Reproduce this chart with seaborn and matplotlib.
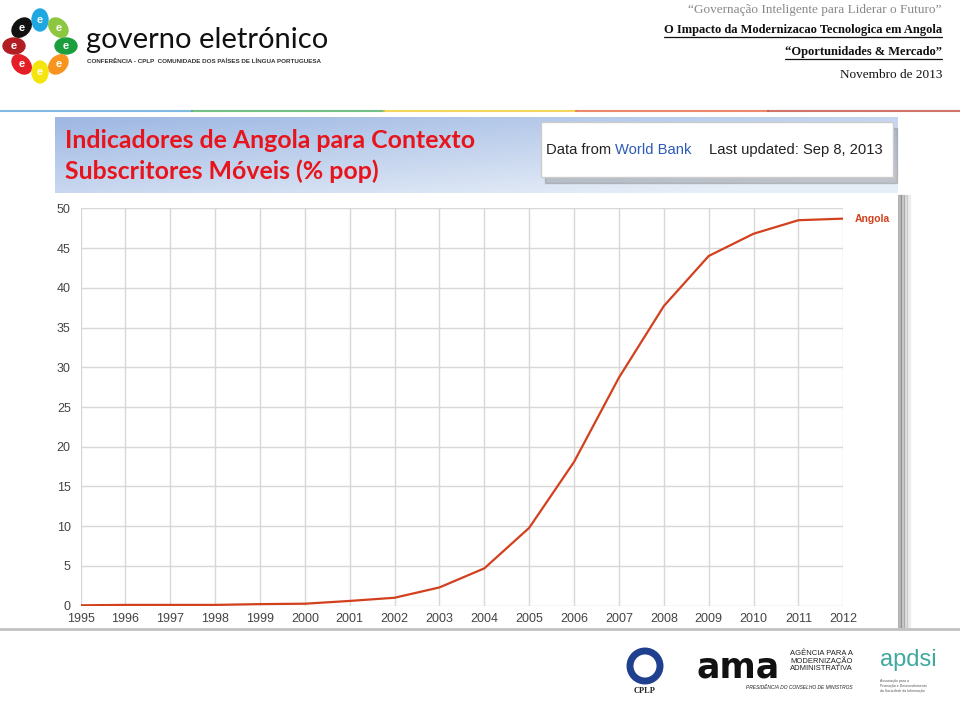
import numpy as np
import pandas as pd
import matplotlib.pyplot as plt
import matplotlib.patches as mpatches
import seaborn as sns

# data
years = list(range(1995, 2013))
angola = [0.05, 0.1, 0.1, 0.1, 0.2, 0.25, 0.6, 1.0, 2.3, 4.7,
          9.8, 18.1, 28.7, 37.7, 44.0, 46.8, 48.5, 48.7]
y_ticks = [0, 5, 10, 15, 20, 25, 30, 35, 40, 45, 50]

title_lines = ["Indicadores de Angola para Contexto", "Subscritores Móveis (% pop)"]
header_lines = ["\u201cGovernação Inteligente para Liderar o Futuro\u201d",
                "O Impacto da Modernizacao Tecnologica em Angola",
                "\u201cOportunidades & Mercado\u201d",
                "Novembro de 2013"]

df = pd.DataFrame({"Ano": years, "Angola": angola})

sns.set_style("white")
plt.rcParams['font.family'] = ['Liberation Sans', 'DejaVu Sans']

W, H = 960, 701
fig = plt.figure(figsize=(9.6, 7.01), dpi=100)

# overlay axes in pixel coordinates for the slide decoration
bg = fig.add_axes([0, 0, 1, 1], zorder=0)
bg.set_xlim(0, W)
bg.set_ylim(H, 0)
bg.axis("off")

# logo petals
petal_colors = ["#1ea7e1", "#8dc63f", "#1b9e3e", "#f7941d", "#f5e50f", "#e41e26", "#b01e23", "#111111"]
cx, cy = 40, 46
for i, c in enumerate(petal_colors):
    ang = np.deg2rad(90 - i * 45)
    px = cx + 26 * np.cos(ang)
    py = cy - 26 * np.sin(ang)
    bg.add_patch(mpatches.Ellipse((px, py), 16, 22, angle=-(i * 45), color=c))
    bg.text(px, py, "e", color="white", fontsize=8, fontweight="bold", ha="center", va="center")

bg.text(86, 40, "governo eletrónico", fontsize=21, family="Lato", fontweight="normal",
        color="#111111", ha="left", va="center")
bg.text(87, 61, "CONFERÊNCIA - CPLP  COMUNIDADE DOS PAÍSES DE LÍNGUA PORTUGUESA",
        fontsize=4.5, fontweight="bold", color="#333333", ha="left", va="center")

# right header
hy = [10, 30, 52, 75]
hcol = ["#888888", "#111111", "#111111", "#111111"]
hsize = [9.5, 9.0, 9.0, 9.5]
for i, (t, y) in enumerate(zip(header_lines, hy)):
    txt = bg.text(942, y, t, fontsize=hsize[i], family="Liberation Serif", color=hcol[i],
                  ha="right", va="center", fontweight="bold" if i in (1, 2) else "normal")
    if i in (1, 2):
        fig.canvas.draw()
        bb = txt.get_window_extent()
        bg.plot([bb.x0, 942], [y + 7, y + 7], color="#111111", lw=0.9)

# coloured rule under the header
rule_cols = ["#4a9fd8", "#3aa655", "#f0c419", "#e05a2b", "#c0392b"]
for i, c in enumerate(rule_cols):
    bg.plot([i * W / 5, (i + 1) * W / 5], [111, 111], color=c, lw=1.5, alpha=0.7)

# title box with gradient
gx = np.linspace(0, 1, 200)
gy = np.linspace(0, 1, 40)
GX, GY = np.meshgrid(gx, gy)
t = np.clip(0.55 * GX + 0.6 * GY, 0, 1)
c0 = np.array([0.62, 0.72, 0.89])
c1 = np.array([0.90, 0.93, 0.97])
grad = c0[None, None, :] * (1 - t[..., None]) + c1[None, None, :] * t[..., None]
bg.imshow(grad, extent=[55, 898, 193, 117], aspect="auto", zorder=1)
bg.set_xlim(0, W)
bg.set_ylim(H, 0)

bg.text(65, 140, title_lines[0], fontsize=17.9, family="Lato", fontweight="bold",
        color="#e8141c", ha="left", va="center", zorder=3)
bg.text(65, 171, title_lines[1], fontsize=17.9, family="Lato", fontweight="bold",
        color="#e8141c", ha="left", va="center", zorder=3)

# data source box
bg.add_patch(mpatches.Rectangle((545, 128), 352, 55, color="#777777", alpha=0.35, zorder=2))
bg.add_patch(mpatches.Rectangle((541, 122), 352, 55, facecolor="white", edgecolor="#cccccc", zorder=3))
src_font = dict(fontsize=10.6, family="Liberation Sans", ha="left", va="center", zorder=4)
bg.text(546, 150, "Data from", color="#222222", **src_font)
bg.text(615, 150, "World Bank", color="#2b5bb5", **src_font)
bg.text(709, 150, "Last updated: Sep 8, 2013", color="#222222", **src_font)

# chart panel with shadow on the right
for k, a in enumerate([0.35, 0.25, 0.15, 0.08]):
    bg.add_patch(mpatches.Rectangle((898 + k * 3, 195), 3, 432, color="#555555", alpha=a, zorder=1))
bg.add_patch(mpatches.Rectangle((55, 195), 843, 432, facecolor="white", edgecolor="none", zorder=2))
bg.plot([0, W], [629, 629], color="#999999", lw=2, alpha=0.6, zorder=2)

# footer logos (text stand-ins)
bg.add_patch(mpatches.Circle((645, 666), 15, facecolor="white", edgecolor="#1f3f8f", lw=5, zorder=2))
bg.text(645, 691, "CPLP", fontsize=6, family="Liberation Serif", fontweight="bold", color="#222222",
        ha="center", va="center")
bg.text(697, 668, "ama", fontsize=25, fontweight="bold", family="DejaVu Sans", color="#111111",
        ha="left", va="center")
bg.text(790, 661, "AGÊNCIA PARA A\nMODERNIZAÇÃO\nADMINISTRATIVA", fontsize=5.5, color="#222222",
        ha="left", va="center", linespacing=1.0)
bg.text(746, 687, "PRESIDÊNCIA DO CONSELHO DE MINISTROS", fontsize=3.5, color="#222222",
        ha="left", va="center", style="italic")
bg.text(880, 660, "apdsi", fontsize=17, color="#3fa9a0", ha="left", va="center")
bg.text(880, 686, "Associação para a\nPromoção e Desenvolvimento\nda Sociedade da Informação",
        fontsize=2.5, color="#555555", ha="left", va="center")

# the chart itself
ax = fig.add_axes([80.5 / W, 1 - 605.7 / H, (843.3 - 80.5) / W, (605.7 - 208.3) / H], zorder=3)
ax.patch.set_alpha(0)
sns.lineplot(data=df, x="Ano", y="Angola", ax=ax, color="#d2401e", linewidth=1.6)
ax.set_xlim(1995, 2012)
ax.set_ylim(0, 50)
ax.set_xticks(years)
ax.set_yticks(y_ticks)
ax.grid(True, color="#d8d8d8", linewidth=1)
for s in ax.spines.values():
    s.set_visible(False)
ax.tick_params(axis="both", length=0, labelsize=9, labelcolor="#444444")
ax.tick_params(axis="x", pad=5)
ax.tick_params(axis="y", pad=7)
ax.set_xlabel("")
ax.set_ylabel("")
ax.text(2012.25, angola[-1], "Angola", color="#d2401e", fontsize=7.5, fontweight="bold",
        ha="left", va="center")

fig.savefig("out.png", dpi=100)
